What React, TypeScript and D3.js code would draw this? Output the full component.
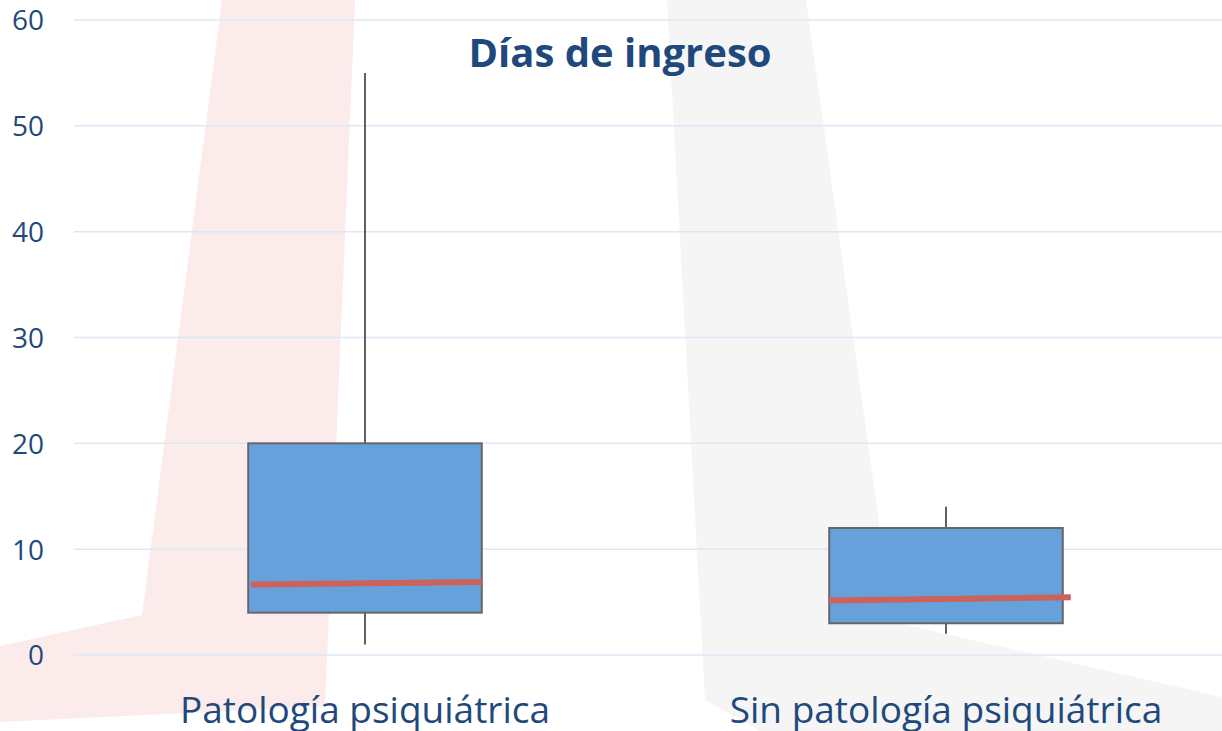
import * as d3 from "d3";

const categories = ["Patología psiquiátrica", "Sin patología psiquiátrica"];
const minValues = [1, 2];
const q1Values = [4, 3];
const q3Values = [20, 12];
const maxValues = [55, 14];
// the median bar is drawn slightly tilted in the source
const medianStart = [6.65, 5.15];
const medianEnd = [6.9, 5.45];
const yTicks = [0, 10, 20, 30, 40, 50, 60];

const W = 1222;
const H = 731;
const TEXT = "#1f497d";

export default function App() {
  const y = d3.scaleLinear().domain([0, 60]).range([655, 20]);
  const x = d3.scaleBand<string>().domain(categories).range([74.5, 1236.5]);
  const boxW = x.bandwidth() * 0.402;
  // small horizontal offsets of the red median strokes
  const medL = [3, 0];
  const medR = [0, 8];

  const redShape = "M222,0 L355,0 L325,706 L0,722 L0,646 L142,615 Z";
  const greyShape = "M667,0 L806,0 L893,622 L1222,697 L1222,731 L760,731 L705,700 Z";

  return (
    <div style={{ position: "absolute", left: 0, top: 0 }}>
      <svg width={W} height={H} style={{ display: "block", fontFamily: "'Open Sans', sans-serif" }}>
        <rect width={W} height={H} fill="#ffffff" />
        <path d={redShape} fill="#fcebeb" />
        <path d={greyShape} fill="#f5f5f5" />

        {yTicks.map((t) => (
          <g key={t}>
            <line x1={74} x2={W} y1={y(t)} y2={y(t)} stroke="#dce8f6" strokeWidth={1.5} />
            <text x={44} y={y(t) + 3} textAnchor="end" dominantBaseline="middle" fontSize={28} fill={TEXT}>
              {t}
            </text>
          </g>
        ))}

        <text x={620} y={67} textAnchor="middle" fontSize={40} fontWeight={700} fill={TEXT}>
          Días de ingreso
        </text>

        {categories.map((c, i) => {
          const cx = x(c)! + x.bandwidth() / 2;
          const bx = cx - boxW / 2;
          return (
            <g key={c}>
              <line x1={cx} x2={cx} y1={y(maxValues[i])} y2={y(q3Values[i])} stroke="#4f4f4f" strokeWidth={1.8} />
              <line x1={cx} x2={cx} y1={y(q1Values[i])} y2={y(minValues[i])} stroke="#4f4f4f" strokeWidth={1.8} />
              <rect
                x={bx}
                y={y(q3Values[i])}
                width={boxW}
                height={y(q1Values[i]) - y(q3Values[i])}
                fill="#66a1dc"
                stroke="#666666"
                strokeWidth={2}
              />
              <line
                x1={bx + medL[i]}
                x2={bx + boxW + medR[i]}
                y1={y(medianStart[i])}
                y2={y(medianEnd[i])}
                stroke="#cd625a"
                strokeWidth={6}
              />
              <text x={cx} y={723} textAnchor="middle" fontSize={37} fill={TEXT}>
                {c}
              </text>
            </g>
          );
        })}
      </svg>
    </div>
  );
}
